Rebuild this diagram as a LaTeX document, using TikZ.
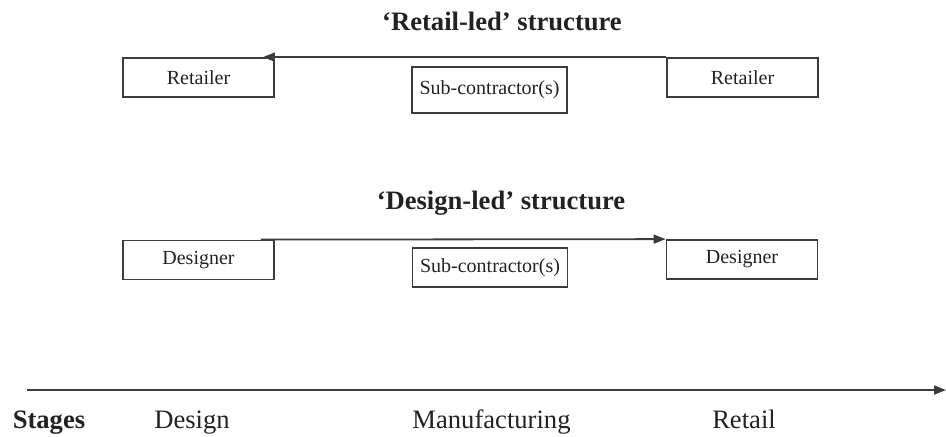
\documentclass[tikz,border=0pt]{standalone}
\usepackage{fontspec}
\setmainfont{Liberation Serif}
\usetikzlibrary{arrows.meta,calc}
\definecolor{ink}{HTML}{222222}
\definecolor{rule}{HTML}{3C3C3C}
\begin{document}
\begin{tikzpicture}[x=0.5pt,y=-0.5pt,
  every node/.style={text=ink},
  actor/.style={draw=rule,line width=0.9pt,rectangle,inner sep=0pt,
    font=\fontsize{10}{12}\selectfont,minimum width=151*0.5pt,minimum height=39*0.5pt},
  subbox/.style={actor,minimum width=155*0.5pt},
  heading/.style={anchor=base,font=\fontsize{13.3}{16}\selectfont\bfseries},
  stage/.style={anchor=base,font=\fontsize{13.3}{16}\selectfont},
  flow/.style={draw=rule,line width=0.9pt,-{Triangle[length=6pt,width=4.5pt]}}]
\useasboundingbox (0,0) rectangle (946,436);

% Retail-led structure
\node[heading] (tr) at (502,30) {‘Retail-led’ structure};
\node[actor] (rL) at (198.5,77.5) {Retailer};
\node[actor] (rR) at (742.5,77.5) {Retailer};
\node[subbox,minimum height=46*0.5pt] (rS) at (489.5,90) {Sub-contractor(s)};
\coordinate (rEnd) at ($(rL.north east)+(-12,0)$);
\draw[flow] (rR.north west) -- (rEnd);

% Design-led structure
\node[heading] (td) at (501,209) {‘Design-led’ structure};
\node[actor] (dL) at (198.5,260) {Designer};
\node[actor] (dR) at (742,259.5) {Designer};
\node[subbox,minimum height=39*0.5pt] (dS) at (490,267.5) {Sub-contractor(s)};
\coordinate (dStart) at ($(dL.north east)+(-14,0)$);
\draw[flow] (dStart) -- (dR.north west);

% Stage axis
\coordinate (aS) at (27,390);
\coordinate (aE) at (946,390);
\draw[flow] (aS) -- (aE);
\node[stage,font=\fontsize{13.3}{16}\selectfont\bfseries] (st) at (49,428) {Stages};
\node[stage] (s1) at (192,428) {Design};
\node[stage] (s2) at (491.5,428) {Manufacturing};
\node[stage] (s3) at (744,428) {Retail};
\end{tikzpicture}
\end{document}
